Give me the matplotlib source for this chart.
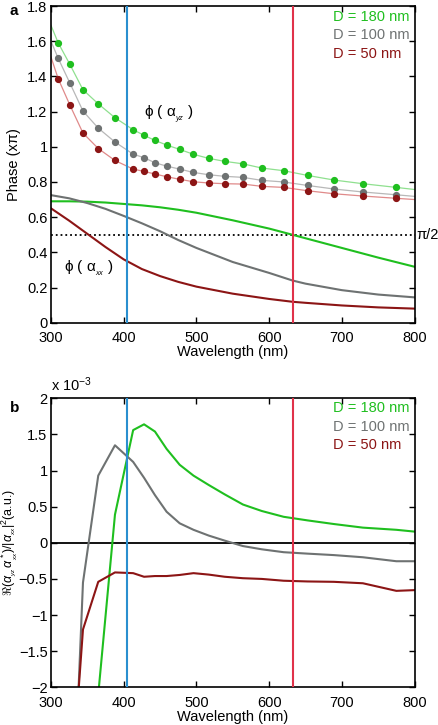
import matplotlib.pyplot as plt

plt.rcParams['font.family'] = ['Liberation Sans', 'DejaVu Sans']
plt.rcParams['mathtext.fontset'] = 'custom'
plt.rcParams['mathtext.rm'] = 'Liberation Sans'
plt.rcParams['mathtext.it'] = 'Liberation Sans:italic'

# wavelengths of the computed points (nm)
wl_dots = [310, 326, 344, 365, 388, 413, 428, 443, 459, 477,
           496, 517, 539, 564, 590, 620, 653, 689, 729, 775]

# phase of alpha_yz (x pi), dots
yz_180 = [1.59, 1.468, 1.324, 1.244, 1.165, 1.097, 1.065, 1.036, 1.01, 0.985,
          0.957, 0.934, 0.917, 0.903, 0.879, 0.864, 0.837, 0.811, 0.79, 0.769]
yz_100 = [1.502, 1.362, 1.203, 1.106, 1.027, 0.958, 0.938, 0.909, 0.89, 0.873,
          0.854, 0.841, 0.832, 0.826, 0.809, 0.80, 0.78, 0.76, 0.743, 0.727]
yz_50 = [1.386, 1.237, 1.078, 0.99, 0.922, 0.873, 0.86, 0.845, 0.83, 0.815,
         0.801, 0.794, 0.79, 0.788, 0.775, 0.769, 0.75, 0.733, 0.72, 0.707]
# line ends at 300 and 800 nm
yz_ends_180 = [1.69, 0.757]
yz_ends_100 = [1.60, 0.718]
yz_ends_50 = [1.51, 0.700]

# phase of alpha_xx (x pi), smooth curves
wl_xx = [300, 325, 350, 375, 400, 425, 450, 475, 500, 550, 600, 632, 650, 700, 750, 800]
xx_180 = [0.690, 0.690, 0.688, 0.683, 0.675, 0.667, 0.656, 0.642, 0.625, 0.582,
          0.535, 0.500, 0.480, 0.425, 0.370, 0.318]
xx_100 = [0.725, 0.707, 0.680, 0.647, 0.607, 0.565, 0.520, 0.470, 0.425, 0.345,
          0.283, 0.240, 0.222, 0.185, 0.160, 0.144]
xx_50 = [0.650, 0.580, 0.505, 0.430, 0.360, 0.305, 0.265, 0.232, 0.205, 0.165,
         0.135, 0.119, 0.113, 0.098, 0.087, 0.080]

# Re(a_yz a_xx*)/|a_xx|^2 (x 1e-3)
wl_re = [326, 344, 365, 388, 413, 428, 443, 459, 477, 496, 517, 539,
         564, 590, 620, 653, 689, 729, 775, 800]
re_180 = [-6.0, -4.1, -2.1, 0.39, 1.56, 1.64, 1.54, 1.30, 1.08, 0.93, 0.80, 0.67,
          0.53, 0.44, 0.36, 0.31, 0.26, 0.21, 0.18, 0.155]
re_100 = [-4.9, -0.55, 0.93, 1.35, 1.12, 0.90, 0.66, 0.43, 0.27, 0.18, 0.10, 0.03,
          -0.045, -0.09, -0.13, -0.15, -0.17, -0.20, -0.255, -0.255]
re_50 = [-3.7, -1.2, -0.54, -0.41, -0.42, -0.47, -0.46, -0.46, -0.445, -0.42, -0.44, -0.47,
         -0.49, -0.50, -0.525, -0.535, -0.54, -0.56, -0.665, -0.655]

laser_lines = [405, 633]

green = '#1fbf1f'
grey = '#6e7272'
dred = '#8c1515'
light = {'g': '#8fe08f', 'k': '#b8b8b8', 'r': '#e08a8a'}

fig = plt.figure(figsize=(4.38, 7.25), dpi=100)
ax1 = fig.add_axes([0.1164, 0.5549, 0.83, 0.4368])
ax2 = fig.add_axes([0.1164, 0.0520, 0.83, 0.3986])

# ---- panel a
for vals, ends, c, lc in [(yz_180, yz_ends_180, green, light['g']),
                          (yz_100, yz_ends_100, grey, light['k']),
                          (yz_50, yz_ends_50, dred, light['r'])]:
    ax1.plot([300] + wl_dots + [800], [ends[0]] + vals + [ends[1]], color=lc, lw=0.9, zorder=2)
    ax1.plot(wl_dots, vals, 'o', color=c, ms=4.2, mec=c, zorder=3)
for vals, c in [(xx_180, green), (xx_100, grey), (xx_50, dred)]:
    ax1.plot(wl_xx, vals, color=c, lw=1.5, zorder=2)
ax1.axhline(0.5, color='black', ls=':', lw=1.3, zorder=1)
ax1.set_xlim(300, 800)
ax1.set_ylim(0, 1.8)
ax1.set_yticks([0, 0.2, 0.4, 0.6, 0.8, 1, 1.2, 1.4, 1.6, 1.8])
ax1.set_yticklabels(['0', '0.2', '0.4', '0.6', '0.8', '1', '1.2', '1.4', '1.6', '1.8'])
ax1.set_ylabel('Phase (x\u03c0)', fontsize=10.5)
ax1.text(802, 0.5, '\u03c0/2', fontsize=10.5, va='center', ha='left')
ax1.text(428, 1.185, '\u03d5 ( \u03b1$_{_{yz}}$ )', fontsize=11, va='center')
ax1.text(318, 0.31, '\u03d5 ( \u03b1$_{_{xx}}$ )', fontsize=11, va='center')
fig.text(0.022, 0.985, 'a', fontsize=11, fontweight='bold', va='center')

# ---- panel b
for vals, c in [(re_180, green), (re_100, grey), (re_50, dred)]:
    ax2.plot(wl_re, vals, color=c, lw=1.5, zorder=2)
ax2.axhline(0, color='black', lw=1.3, zorder=1)
ax2.set_xlim(300, 800)
ax2.set_ylim(-2, 2)
ax2.set_yticks([-2, -1.5, -1, -0.5, 0, 0.5, 1, 1.5, 2])
ax2.set_yticklabels(['\u22122', '\u22121.5', '\u22121', '\u22120.5', '0', '0.5', '1', '1.5', '2'])
ax2.set_ylabel(r'$\Re(\alpha_{_{yz}}\,\alpha^*_{_{xx}})/|\alpha_{_{xx}}|^2$(a.u.)', fontsize=9)
ax2.text(300, 2.06, r'x 10$^{-3}$', fontsize=10.5, va='bottom')
fig.text(0.022, 0.437, 'b', fontsize=11, fontweight='bold', va='center')

ax1.yaxis.set_label_coords(-0.082, 0.5)
ax2.yaxis.set_label_coords(-0.084, 0.5)

for ax in (ax1, ax2):
    for w, c in zip(laser_lines, ['#2a8fcf', '#e0324a']):
        ax.axvline(w, color=c, lw=1.5, zorder=4)
    ax.set_xticks([300, 400, 500, 600, 700, 800])
    ax.set_xlabel('Wavelength (nm)', fontsize=10.5, labelpad=0)
    ax.tick_params(direction='in', top=True, right=True, labelsize=10.5, length=4, width=1)
    ax.tick_params(axis='x', pad=6)
    ax.tick_params(axis='y', pad=2.5)
    for s in ax.spines.values():
        s.set_linewidth(1.2)
    for i, (lab, c) in enumerate([('D = 180 nm', green), ('D = 100 nm', grey), ('D = 50 nm', dred)]):
        ax.text(0.776, 0.965 - i * 0.058 * (0.4368 / ax.get_position().height), lab,
                color=c, fontsize=10.5, transform=ax.transAxes, va='center')

fig.savefig('out.png', dpi=100)
